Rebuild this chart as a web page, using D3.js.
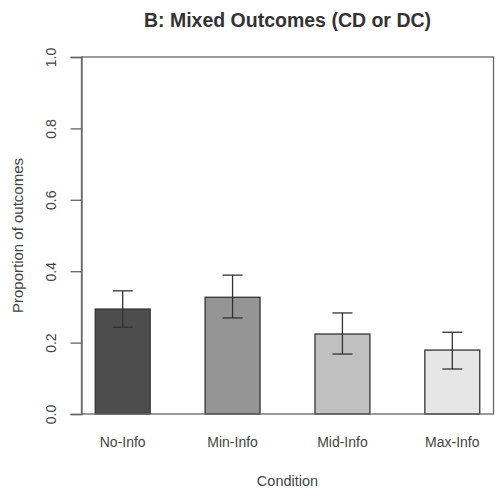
<!DOCTYPE html>
<html><head><meta charset="utf-8">
<script src="https://cdn.jsdelivr.net/npm/d3@7"></script>
<style>body{margin:0;background:#fff}svg{display:block}text{font-family:"Liberation Sans",Arial,sans-serif}</style>
</head><body>
<script>
const categories = ["No-Info","Min-Info","Mid-Info","Max-Info"];
const values = [0.294, 0.327, 0.224, 0.179];
const errLow = [0.243, 0.269, 0.168, 0.126];
const errHigh = [0.345, 0.389, 0.283, 0.229];
const barColors = ["#4d4d4d","#959595","#c0c0c0","#e6e6e6"];
const yTicks = [0, 0.2, 0.4, 0.6, 0.8, 1.0];

const W = 499, H = 493;
const m = {left: 81.5, right: 493.5, top: 57, bottom: 414};
const svg = d3.select("body").append("svg").attr("width", W).attr("height", H);

const x = d3.scaleBand().domain(categories).range([m.left, m.right]).paddingInner(0.5).paddingOuter(0.125);
const y = d3.scaleLinear().domain([0, 1]).range([m.bottom, m.top]);

const ink = "#444";

// bars
svg.selectAll("rect.bar").data(categories).join("rect")
  .attr("x", d => x(d)).attr("y", (d,i) => y(values[i]))
  .attr("width", x.bandwidth()).attr("height", (d,i) => y(0) - y(values[i]))
  .attr("fill", (d,i) => barColors[i]).attr("stroke", "#333").attr("stroke-width", 1.3);

// error bars
const cap = 10;
const eb = svg.append("g").attr("stroke", "#333").attr("stroke-width", 1.3);
categories.forEach((c, i) => {
  const cx = x(c) + x.bandwidth() / 2;
  eb.append("line").attr("x1", cx).attr("x2", cx).attr("y1", y(errLow[i])).attr("y2", y(errHigh[i]));
  eb.append("line").attr("x1", cx - cap).attr("x2", cx + cap).attr("y1", y(errLow[i])).attr("y2", y(errLow[i]));
  eb.append("line").attr("x1", cx - cap).attr("x2", cx + cap).attr("y1", y(errHigh[i])).attr("y2", y(errHigh[i]));
});

// box
svg.append("rect").attr("x", m.left).attr("y", m.top).attr("width", m.right - m.left).attr("height", m.bottom - m.top)
  .attr("fill", "none").attr("stroke", "#666").attr("stroke-width", 1.3);

// y axis
const yAxis = d3.axisLeft(y).tickValues(yTicks).tickFormat(d3.format(".1f")).tickSize(11).tickPadding(12);
const gy = svg.append("g").attr("transform", `translate(${m.left},0)`).call(yAxis);
gy.select(".domain").attr("stroke", "#666").attr("stroke-width", 1.3);
gy.selectAll(".tick line").attr("stroke", "#666").attr("stroke-width", 1.3);
gy.selectAll(".tick text").attr("fill", ink).attr("font-size", 14)
  .attr("transform", `rotate(-90, -30, 0)`)
  .attr("x", -30).attr("dy", "0.35em").attr("text-anchor", "middle");

// x labels
const xAxis = d3.axisBottom(x).tickSize(0).tickPadding(23);
const gx = svg.append("g").attr("transform", `translate(0,${m.bottom})`).call(xAxis);
gx.select(".domain").remove();
gx.selectAll(".tick text").attr("fill", ink).attr("font-size", 14);

// titles
svg.append("text").attr("x", (m.left + m.right) / 2).attr("y", 27).attr("text-anchor", "middle")
  .attr("font-size", 19.5).attr("font-weight", "bold").attr("fill", "#333").text("B: Mixed Outcomes (CD or DC)");
svg.append("text").attr("x", (m.left + m.right) / 2).attr("y", 486).attr("text-anchor", "middle")
  .attr("font-size", 14.5).attr("fill", ink).text("Condition");
svg.append("text").attr("transform", `translate(23,${(m.top + m.bottom) / 2}) rotate(-90)`).attr("text-anchor", "middle")
  .attr("font-size", 15).attr("fill", ink).text("Proportion of outcomes");
</script>
</body></html>
